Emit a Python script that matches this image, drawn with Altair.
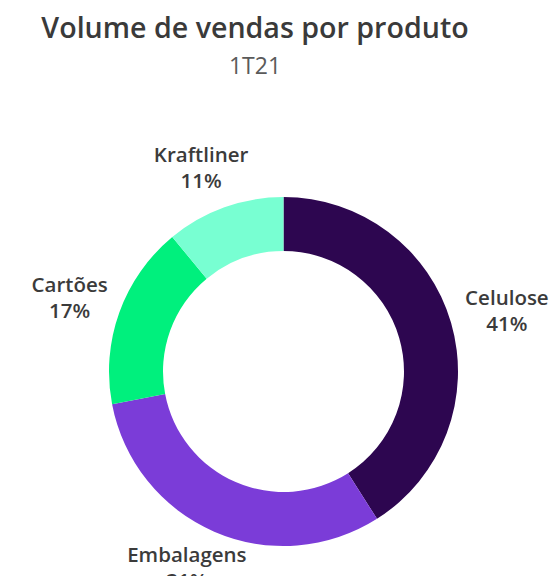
import altair as alt
import pandas as pd

produtos = ["Celulose", "Embalagens", "Cartões", "Kraftliner"]
percentuais = [41, 31, 17, 11]
cores = ["#2d0650", "#7b3cd8", "#00f07d", "#78ffd2"]

df = pd.DataFrame({
    "produto": produtos,
    "valor": percentuais,
    "ordem": list(range(len(produtos))),
})
df["rotulo"] = df["produto"] + "\n" + df["valor"].astype(str) + "%"
total = float(df["valor"].sum())
df["meio"] = df["valor"].cumsum() - df["valor"] / 2

theta_scale = alt.Scale(domain=[0, total])

FS = 20.5    # label font size
LH = 26      # label line height

arcos = alt.Chart(df).mark_arc(innerRadius=120.5, outerRadius=174.5, stroke=None).encode(
    theta=alt.Theta("valor:Q", stack=True, scale=theta_scale),
    order=alt.Order("ordem:Q", sort="ascending"),
    color=alt.Color("produto:N", scale=alt.Scale(domain=produtos, range=cores), legend=None),
)

# outside labels: the label box is pushed away from the ring along the slice's mid direction
rotulos = (
    alt.Chart(df)
    .transform_calculate(
        ang=f"datum.meio / {total} * 2 * PI",
        larg=f"max(length(datum.produto), length(toString(datum.valor)) + 1) * 0.52 * {FS}",
        desl_x="sin(datum.ang) * datum.larg / 2",
        desl_y=f"-cos(datum.ang) * 25 - {LH / 2}",
    )
    .mark_text(
        radius=190,
        font="Open Sans",
        fontSize=FS,
        fontWeight=600,
        color="#3b3b3b",
        align="center",
        baseline="middle",
        lineBreak="\n",
        lineHeight=LH,
        dx=alt.expr("datum.desl_x"),
        dy=alt.expr("datum.desl_y"),
    )
    .encode(
        theta=alt.Theta("meio:Q", stack=False, scale=theta_scale),
        text="rotulo:N",
    )
)

chart = (
    alt.layer(arcos, rotulos)
    .properties(
        width=360,
        height=360,
        padding={"left": 95.5, "top": 183.5, "right": 85.5, "bottom": 24},
        autosize=alt.AutoSizeParams(type="none"),
        title=alt.TitleParams(
            text="Volume de vendas por produto",
            subtitle="1T21",
            anchor="middle",
            font="Open Sans",
            fontSize=28.6,
            fontWeight=600,
            color="#3a3a3a",
            subtitleFont="Open Sans",
            subtitleFontSize=23,
            subtitleFontWeight="normal",
            subtitleColor="#5a5a5a",
            subtitlePadding=13,
            dx=-28.5,
            offset=67,
        ),
    )
    .configure_view(stroke=None)
)

chart.save("out.html", embed_options={"renderer": "svg", "actions": False})
